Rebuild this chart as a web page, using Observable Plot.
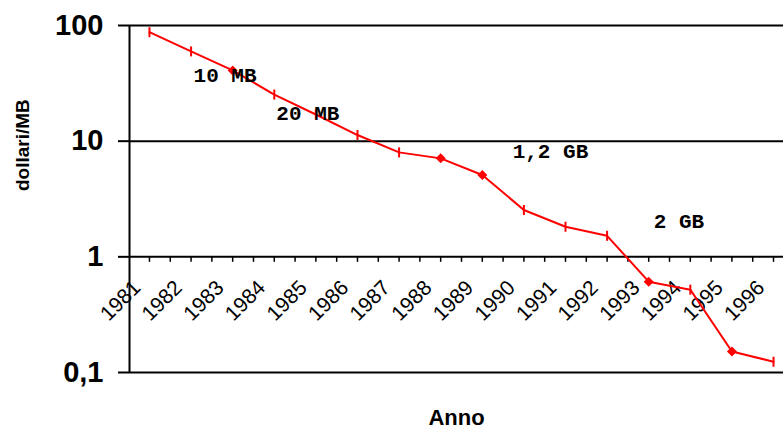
<!DOCTYPE html>
<html><head><meta charset="utf-8">
<script src="https://cdn.jsdelivr.net/npm/d3@7"></script>
<script src="https://cdn.jsdelivr.net/npm/@observablehq/plot@0.6"></script>
<style>body{margin:0;background:#fff;}</style>
</head><body><div id="chart"></div>
<script>
const years = [1981,1982,1983,1984,1985,1986,1987,1988,1989,1990,1991,1992,1993,1994,1995,1996];
const prices = [87.5,59.7,40.9,25.3,17,11.3,8.0,7.1,5.1,2.54,1.82,1.52,0.61,0.52,0.152,0.124];
const diamondYears = [1983,1988,1989,1993,1995];
const yTicks = [100,10,1,0.1];
const yTickLabels = ["100","10","1","0,1"];
const annotationText = ["10 MB","20 MB","1,2 GB","2 GB"];
const annotationYear = [1982.06,1984.05,1989.73,1993.12];
const annotationValue = [37,17.4,8.1,2.04];
const xDomain = [1980.52,1996.24];
const yDomain = [0.1,100];

const SANS = "'Liberation Sans', Arial, sans-serif";
const MONO = "'Liberation Mono', 'Courier New', monospace";

const xTicks = years.flatMap(y => [y, y + 0.5]).filter(t => t <= xDomain[1]);

const rOf = size => Math.sqrt(size / Math.PI);
const vbar = {draw(ctx, size){const r = rOf(size); ctx.moveTo(0,-r); ctx.lineTo(0,r);}};
const tickDown = {draw(ctx, size){const r = rOf(size); ctx.moveTo(0,0); ctx.lineTo(0,r);}};
const diamond = {draw(ctx, size){const r = rOf(size); ctx.moveTo(0,-r); ctx.lineTo(r,0); ctx.lineTo(0,r); ctx.lineTo(-r,0); ctx.closePath();}};

const pts = years.map((y,i) => ({year:y, price:prices[i], diamond: diamondYears.includes(y)}));

const chart = Plot.plot({
  width: 783, height: 433,
  marginLeft: 129, marginRight: 0, marginTop: 25, marginBottom: 61,
  x: {type:"linear", domain:xDomain, axis:null},
  y: {type:"log", domain:yDomain, axis:null},
  style: {fontFamily:SANS, background:"white", overflow:"visible"},
  marks: [
    Plot.ruleY(yTicks, {stroke:"black", strokeWidth:2}),
    Plot.axisY(yTicks, {tickSize:11, tickPadding:15, strokeWidth:2, label:null,
      tickFormat: d => yTickLabels[yTicks.indexOf(d)], fontSize:29, fontWeight:"bold", fontFamily:SANS, fill:"black"}),
    Plot.ruleX([xDomain[0]], {stroke:"black", strokeWidth:2}),
    Plot.dot(xTicks, {x:d=>d, y:()=>1, symbol:tickDown, r:5, stroke:"black", strokeWidth:1.5, fill:"none"}),
    Plot.text(years, {x:d=>d, y:()=>1, text:d=>String(d), rotate:-45, dx:-29, dy:44, fontSize:21, fontFamily:SANS, fill:"black"}),
    Plot.line(pts, {x:"year", y:"price", stroke:"#ff0000", strokeWidth:2}),
    Plot.dot(pts.filter(d=>!d.diamond), {x:"year", y:"price", symbol:vbar, r:5, stroke:"#ff0000", strokeWidth:2, fill:"none"}),
    Plot.dot(pts.filter(d=>d.diamond), {x:"year", y:"price", symbol:diamond, r:5, fill:"#ff0000", stroke:"none"}),
    Plot.text(annotationText, {x:(d,i)=>annotationYear[i], y:(d,i)=>annotationValue[i], text:d=>d, textAnchor:"start",
      fontFamily:MONO, fontWeight:"bold", fontSize:21, fill:"black"}),
    Plot.text(["dollari/MB"], {frameAnchor:"left", text:d=>d, rotate:-90, dx:-107, dy:-8, fontWeight:"bold", fontSize:19, fontFamily:SANS, fill:"black"}),
    Plot.text(["Anno"], {frameAnchor:"bottom", text:d=>d, dy:52, fontWeight:"bold", fontSize:22, fontFamily:SANS, fill:"black"})
  ]
});
document.getElementById("chart").appendChild(chart);
</script>
</body></html>
